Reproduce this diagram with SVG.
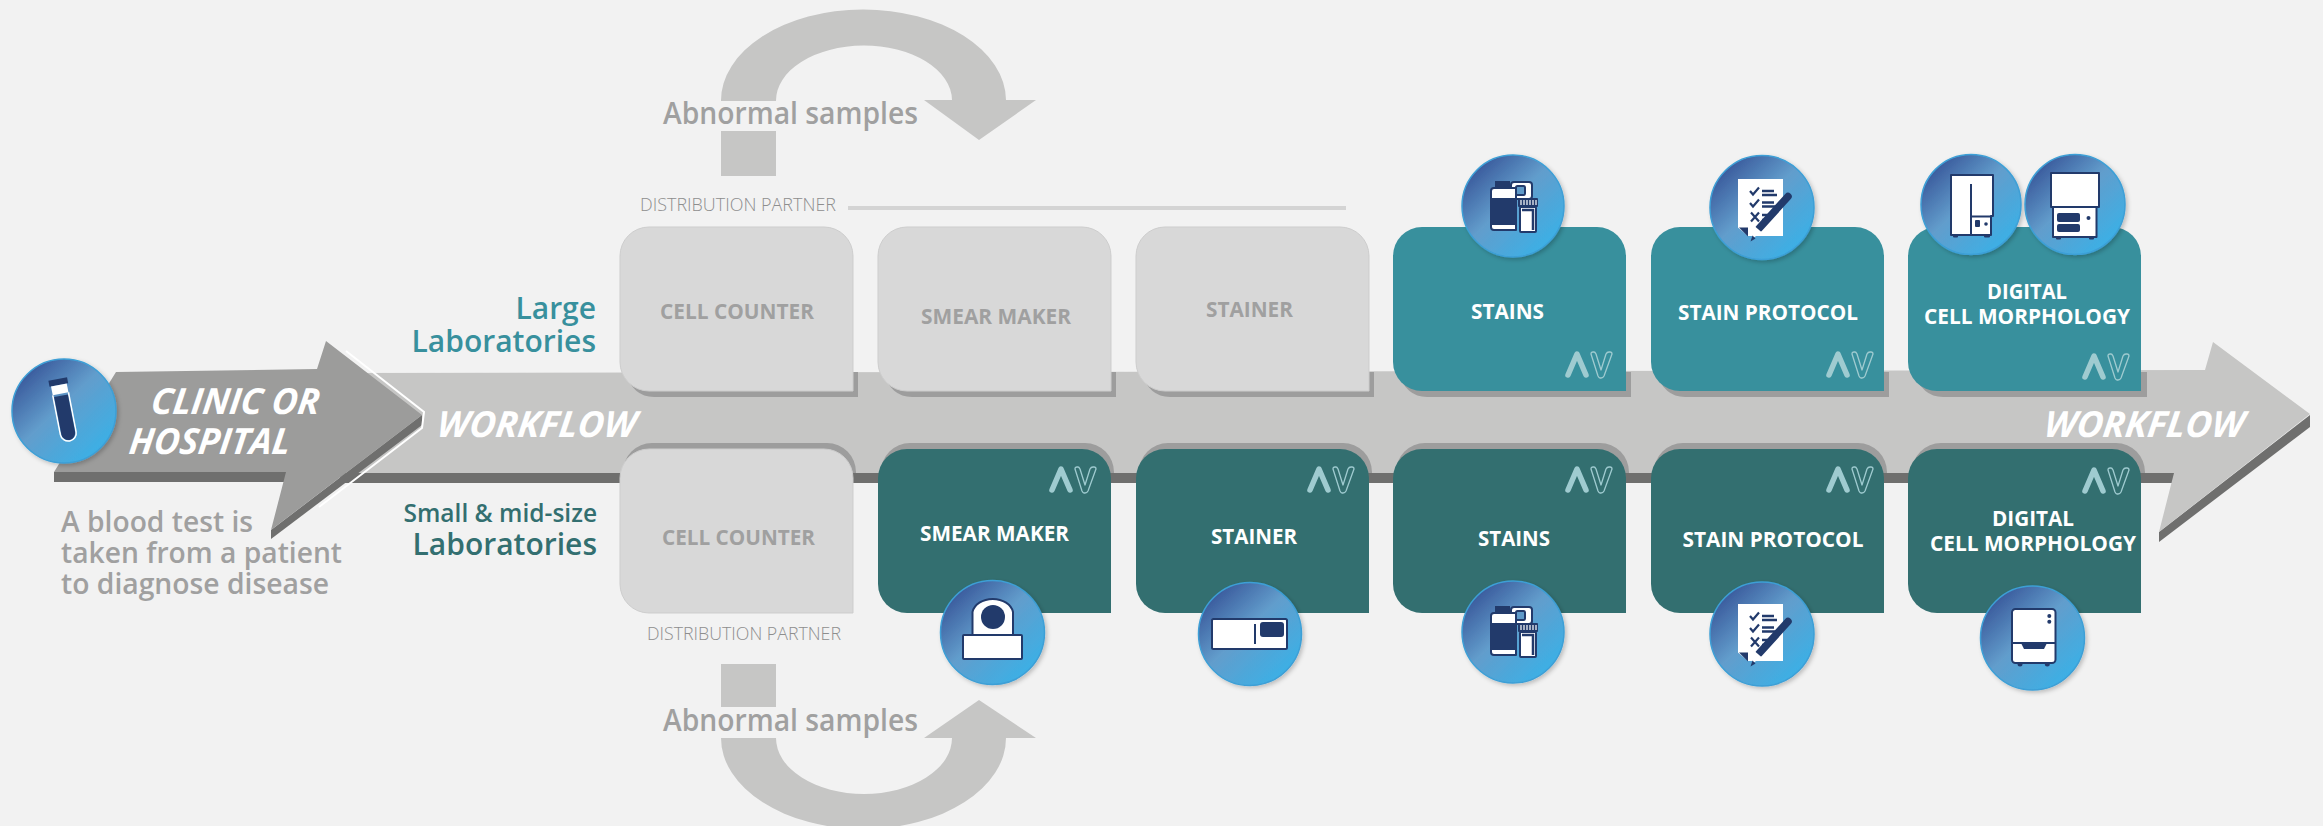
<svg xmlns="http://www.w3.org/2000/svg" width="2323" height="826" viewBox="0 0 2323 826">
<style>
text{font-family:"Open Sans","Liberation Sans",sans-serif}
.lbl{font-size:22px;font-weight:700;text-anchor:middle}
.g{fill:#a0a0a0}.wt{fill:#fff}
.wf{font-size:36px;font-weight:700;font-style:italic;fill:#fff}
.dp{font-size:19px;font-weight:300;fill:#8e8e8e}
.ab{font-size:30px;font-weight:600;fill:#a0a0a0}
.bg{fill:#d8d8d8;stroke:#cdcdcd;stroke-width:1}
.tl{fill:#38909d}.dk{fill:#336f70}
.sh{fill:#9d9d9d}
.arr{fill:#c6c6c5}
.strip{fill:#6f6f6e}
.d{fill:#223a6b}
.w{fill:#fff;stroke:#223a6b;stroke-width:2;stroke-linejoin:round}
.c{fill:url(#cg);stroke:#3d9fd6;stroke-width:1.5;filter:url(#ds)}
.av1{fill:none;stroke:#9fcbd0;stroke-width:5.500;stroke-linecap:round;stroke-linejoin:round}
.av2{fill:none;stroke:#9fcbd0;stroke-width:1.3;stroke-linejoin:round}
</style>
<defs>
<linearGradient id="cg" x1="0.14" y1="0.12" x2="0.86" y2="0.88">
<stop offset="0" stop-color="#3a5a9c"/><stop offset="0.45" stop-color="#629dcc"/><stop offset="1" stop-color="#3bb0e6"/>
</linearGradient>
<filter id="ds" x="-20%" y="-20%" width="145%" height="145%"><feDropShadow dx="2" dy="2" stdDeviation="2" flood-color="#000" flood-opacity="0.22"/></filter>
<path id="box" d="M29 0H204A29 29 0 0 1 233 29V164H29A29 29 0 0 1 0 135V29A29 29 0 0 1 29 0Z"/>
<path id="topsh" d="M0 0H233V25H29Q8 25 0 0Z"/>
<path id="botsh" d="M0 30V29A29 29 0 0 1 29 0H204A29 29 0 0 1 233 29V30Z"/>
<g id="av">
<path class="av1" d="M3 24L12 3L21 24"/>
<path class="av2" d="M26 3Q26 1 28 1H29Q30 1 31 3L36 19L41 3Q42 1 44 1H45Q47 1 47 3L39 25Q38 27 36 27H35Q34 27 33 25Z"/>
</g>
<g id="ic-stains">
<rect class="d" x="-18" y="-25" width="15" height="7"/>
<rect class="w" x="-2" y="-24" width="21" height="17" rx="3"/>
<rect x="3" y="-20" width="9" height="9" rx="1.500" fill="#5f9ac9" stroke="#223a6b" stroke-width="2"/>
<path class="w" d="M-19 -18H3V24H-19Q-22 24 -22 21V-15Q-22 -18 -19 -18Z"/>
<path class="d" d="M-21 -8H2V19H-21Z"/>
<rect class="d" x="5" y="-8" width="20" height="9" rx="1"/>
<path d="M8 -6V-1M11 -6V-1M14 -6V-1M17 -6V-1M20 -6V-1M23 -6V-1" stroke="#fff" stroke-width="1.200"/>
<rect class="w" x="7" y="1" width="16" height="25" rx="1"/>
<path d="M9 4H20V24" fill="none" stroke="#223a6b" stroke-width="2.500"/>
</g>
<g id="ic-proto">
<path d="M-24 -28.500H21V28.500H-14L-24 20Z" fill="#fff"/>
<path d="M-23 20H-14V29Z" fill="#223a6b"/>
<path d="M-12 -16.500L-9 -13L-3 -20M-12 -4.500L-9 -1L-3 -8" fill="none" stroke="#223a6b" stroke-width="2.200"/>
<path d="M-11 5L-3 14M-3 5L-11 14" fill="none" stroke="#223a6b" stroke-width="2.200"/>
<path d="M0 -16.500H12M0 -12.500H15M0 -5H12M0 -1H15M0 7.500H12M0 12.500H8" fill="none" stroke="#223a6b" stroke-width="2.500"/>
<path d="M26 -11L-3 21" stroke="#223a6b" stroke-width="7.500" stroke-linecap="round"/>
<path d="M-7 19L0 25L-10 31Z" fill="#fff"/>
<path d="M-9.500 28L-11.500 34L-6.500 31Z" fill="#223a6b"/>
</g>
</defs>
<rect width="2323" height="826" fill="#f2f2f2"/>

<g id="connectors">
<g id="workflow-arrow">
<path class="strip" d="M340 473H2174V483H340Z"/>
<path class="strip" d="M2159 532L2310 415V427L2159 542Z"/>
<path class="arr" d="M340 373L2205 370L2213 342L2310 414L2159 532L2174 473H340Z"/>
</g>
<g id="abnormal-top">
<path class="arr" d="M721 101A142.500 91 0 0 1 1006 100H1036L979 140L924 100H952A88 55 0 0 0 776 101Z"/>
<rect class="arr" x="721" y="131" width="55" height="45"/>
</g>
<g id="abnormal-bottom">
<path class="arr" d="M721 738A142.500 91 0 0 0 1006 738H1036L979 700L924 738H952A88 56 0 0 1 776 738Z"/>
<rect class="arr" x="721" y="664" width="55" height="43"/>
</g>
</g>
<use href="#topsh" class="sh" transform="translate(625 372)"/>
<use href="#topsh" class="sh" transform="translate(883 372)"/>
<use href="#topsh" class="sh" transform="translate(1141 372)"/>
<use href="#topsh" class="sh" transform="translate(1398 372)"/>
<use href="#topsh" class="sh" transform="translate(1656 372)"/>
<use href="#topsh" class="sh" transform="translate(1914 372)"/>
<use href="#botsh" class="sh" transform="translate(623 443)"/>
<use href="#botsh" class="sh" transform="translate(881 443)"/>
<use href="#botsh" class="sh" transform="translate(1139 443)"/>
<use href="#botsh" class="sh" transform="translate(1396 443)"/>
<use href="#botsh" class="sh" transform="translate(1654 443)"/>
<use href="#botsh" class="sh" transform="translate(1912 443)"/>

<g id="clinic">
<path class="strip" d="M54 472H286V482H54Z"/>
<path class="strip" d="M422 415V425L271 539V530Z"/>
<path d="M54 472L116 372L317 369L326 341L422 415L271 530L286 472Z" fill="#9c9c9b"/>
<path d="M346 351L424 412L422 428L319 507" fill="none" stroke="#fff" stroke-width="2"/>
<circle class="c" cx="64" cy="411" r="52"/>
<g transform="translate(58.300 382) rotate(-11)">
<rect class="d" x="-9.500" y="-3" width="19" height="6"/>
<rect x="-8" y="3" width="16" height="9" fill="#fff"/>
<path d="M-8 12V52A8 8 0 0 0 8 52V12" fill="none" stroke="#fff" stroke-width="1.500"/>
<path d="M-7 14H7V52A7 7 0 0 1 -7 52Z" fill="#223a6b"/>
</g>
<text class="wf" transform="translate(150 414) skewX(-7)" textLength="168" lengthAdjust="spacingAndGlyphs">CLINIC OR</text>
<text class="wf" transform="translate(128 454) skewX(-7)" textLength="161" lengthAdjust="spacingAndGlyphs">HOSPITAL</text>
</g>
<text class="wf" transform="translate(436 437) skewX(-7)" textLength="199" lengthAdjust="spacingAndGlyphs">WORKFLOW</text>
<text class="wf" transform="translate(2043 437) skewX(-7)" textLength="200" lengthAdjust="spacingAndGlyphs">WORKFLOW</text>
<g id="blood-test" font-size="29" font-weight="600" fill="#a0a0a0">
<text x="61" y="532" textLength="192" lengthAdjust="spacingAndGlyphs">A blood test is</text>
<text x="61" y="563" textLength="281" lengthAdjust="spacingAndGlyphs">taken from a patient</text>
<text x="61" y="594" textLength="268" lengthAdjust="spacingAndGlyphs">to diagnose disease</text>
</g>
<g id="large-labs" font-size="30" font-weight="600" fill="#38909d" text-anchor="end">
<text x="596" y="319">Large</text>
<text x="596" y="352">Laboratories</text>
</g>
<g id="small-labs" font-weight="600" fill="#336f70" text-anchor="end">
<text x="597" y="522" font-size="24.500">Small &amp; mid-size</text>
<text x="597" y="555" font-size="30">Laboratories</text>
</g>

<text class="ab" x="663" y="124" textLength="255" lengthAdjust="spacingAndGlyphs">Abnormal samples</text>
<text class="ab" x="663" y="731" textLength="255" lengthAdjust="spacingAndGlyphs">Abnormal samples</text>
<text class="dp" x="640" y="211" textLength="196" lengthAdjust="spacingAndGlyphs">DISTRIBUTION PARTNER</text>
<rect x="848" y="206" width="498" height="4" fill="#d4d4d4"/>
<text class="dp" x="647" y="640" textLength="194" lengthAdjust="spacingAndGlyphs">DISTRIBUTION PARTNER</text>

<g id="top-cell-counter"><use href="#box" class="bg" transform="translate(620 227)"/><text class="lbl g" x="737" y="319" textLength="154" lengthAdjust="spacingAndGlyphs">CELL COUNTER</text></g>
<g id="top-smear-maker"><use href="#box" class="bg" transform="translate(878 227)"/><text class="lbl g" x="996" y="324" textLength="150" lengthAdjust="spacingAndGlyphs">SMEAR MAKER</text></g>
<g id="top-stainer"><use href="#box" class="bg" transform="translate(1136 227)"/><text class="lbl g" x="1249.500" y="317" textLength="87" lengthAdjust="spacingAndGlyphs">STAINER</text></g>
<g id="top-stains"><use href="#box" class="tl" transform="translate(1393 227)"/><text class="lbl wt" x="1507.500" y="319" textLength="73" lengthAdjust="spacingAndGlyphs">STAINS</text>
<use href="#av" transform="translate(1565 351)"/><circle class="c" cx="1513" cy="206" r="51"/><use href="#ic-stains" transform="translate(1513 206)"/></g>
<g id="top-stain-protocol"><use href="#box" class="tl" transform="translate(1651 227)"/><text class="lbl wt" x="1768" y="320" textLength="180" lengthAdjust="spacingAndGlyphs">STAIN PROTOCOL</text>
<use href="#av" transform="translate(1826 351)"/><circle class="c" cx="1762" cy="207.500" r="52"/><use href="#ic-proto" transform="translate(1762 207.500)"/></g>
<g id="top-digital"><use href="#box" class="tl" transform="translate(1908 227)"/><text class="lbl wt" x="2027" y="299" textLength="80" lengthAdjust="spacingAndGlyphs">DIGITAL</text><text class="lbl wt" x="2027" y="324" textLength="206" lengthAdjust="spacingAndGlyphs">CELL MORPHOLOGY</text>
<use href="#av" transform="translate(2082 353)"/>
<circle class="c" cx="1971" cy="204.500" r="50"/>
<rect class="d" x="1953" y="234" width="5" height="3.500" rx="1"/><rect class="d" x="1984" y="234" width="6" height="3.500" rx="1"/>
<path class="w" d="M1951 175H1993V216H1991V235H1951Z"/>
<path d="M1971 184V235M1971 216.500H1992" stroke="#223a6b" stroke-width="2" fill="none"/>
<rect class="d" x="1975" y="220" width="5" height="7" rx="1"/><circle class="d" cx="1986" cy="224" r="1.800"/>
<circle class="c" cx="2075" cy="204.500" r="50"/>
<rect class="d" x="2056" y="236" width="5" height="3.500" rx="1"/><rect class="d" x="2089" y="236" width="5" height="3.500" rx="1"/>
<rect class="w" x="2053" y="207" width="43.500" height="30"/>
<rect class="w" x="2051" y="173" width="48" height="34"/>
<rect class="d" x="2057" y="213" width="23" height="9" rx="2"/><rect class="d" x="2057" y="224" width="23" height="8" rx="2"/><circle class="d" cx="2088.500" cy="218" r="2"/></g>

<g id="bottom-cell-counter"><use href="#box" class="bg" transform="translate(620 449)"/><text class="lbl g" x="738.500" y="545" textLength="153" lengthAdjust="spacingAndGlyphs">CELL COUNTER</text></g>
<g id="bottom-smear-maker"><use href="#box" class="dk" transform="translate(878 449)"/><text class="lbl wt" x="994.500" y="541" textLength="149" lengthAdjust="spacingAndGlyphs">SMEAR MAKER</text>
<use href="#av" transform="translate(1049 466)"/><circle class="c" cx="992.500" cy="632.500" r="52"/>
<path class="w" d="M972.500 636V612A20.500 15.500 0 0 1 1013 612V636Z"/><circle class="d" cx="993" cy="617" r="12"/><rect class="w" x="963" y="635" width="59" height="24" rx="1"/></g>
<g id="bottom-stainer"><use href="#box" class="dk" transform="translate(1136 449)"/><text class="lbl wt" x="1254" y="544" textLength="86" lengthAdjust="spacingAndGlyphs">STAINER</text>
<use href="#av" transform="translate(1307 466)"/><circle class="c" cx="1250" cy="634" r="51.500"/>
<rect class="w" x="1212" y="619" width="75" height="30" rx="1.500"/><path d="M1255 624V644" stroke="#223a6b" stroke-width="2"/><rect class="d" x="1260" y="622" width="24" height="15" rx="3"/></g>
<g id="bottom-stains"><use href="#box" class="dk" transform="translate(1393 449)"/><text class="lbl wt" x="1514" y="546" textLength="72" lengthAdjust="spacingAndGlyphs">STAINS</text>
<use href="#av" transform="translate(1565 466)"/><circle class="c" cx="1513" cy="632" r="51"/><use href="#ic-stains" transform="translate(1513 631)"/></g>
<g id="bottom-stain-protocol"><use href="#box" class="dk" transform="translate(1651 449)"/><text class="lbl wt" x="1773" y="547" textLength="181" lengthAdjust="spacingAndGlyphs">STAIN PROTOCOL</text>
<use href="#av" transform="translate(1826 466)"/><circle class="c" cx="1762" cy="634" r="52"/><use href="#ic-proto" transform="translate(1762 632.500)"/></g>
<g id="bottom-digital"><use href="#box" class="dk" transform="translate(1908 449)"/><text class="lbl wt" x="2033" y="526" textLength="82" lengthAdjust="spacingAndGlyphs">DIGITAL</text><text class="lbl wt" x="2033" y="551" textLength="206" lengthAdjust="spacingAndGlyphs">CELL MORPHOLOGY</text>
<use href="#av" transform="translate(2082 467)"/><circle class="c" cx="2032.500" cy="638" r="52"/>
<circle class="d" cx="2020" cy="664" r="2.500"/><circle class="d" cx="2047.300" cy="664" r="2.500"/>
<rect class="w" x="2012" y="609" width="43.500" height="54" rx="3.500"/>
<path d="M2012 643H2055" stroke="#223a6b" stroke-width="2"/><path d="M2021 643H2047L2044 649H2024Z" fill="#223a6b"/>
<circle class="d" cx="2049.300" cy="616" r="2"/><circle class="d" cx="2049.300" cy="621.700" r="2"/></g>
</svg>
